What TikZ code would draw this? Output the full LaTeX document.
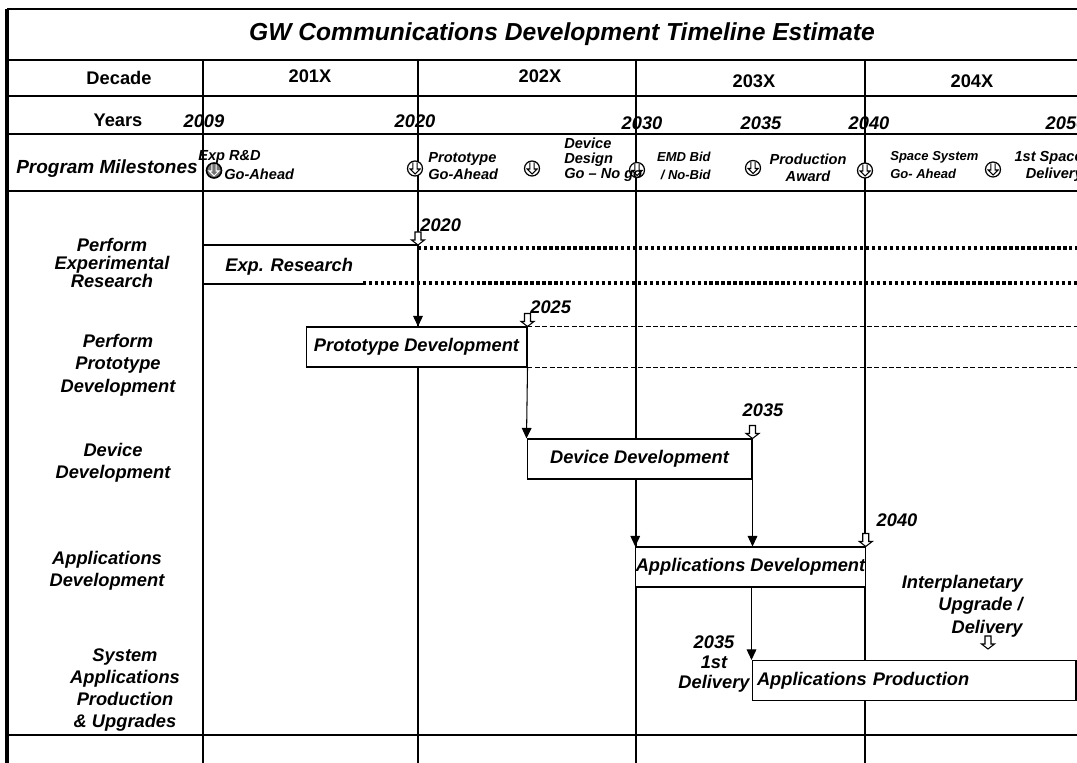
\documentclass[tikz,border=0pt]{standalone}
\usepackage{fontspec}
\setmainfont{Liberation Sans}
\usetikzlibrary{arrows.meta}

\begin{document}
\begin{tikzpicture}[x=0.02cm,y=-0.02cm,
    every node/.style={font=\bfseries\itshape\fontsize{10.4}{12.7}\selectfont, inner sep=0pt},
    grid/.style={line width=0.6pt},
    rule/.style={line width=1.3pt},
    bar/.style={draw, line width=0.6pt, fill=white, minimum height=0.8cm},
    flow/.style={line width=0.6pt, -{Triangle[width=5.5pt,length=6pt]}},
    dotline/.style={line width=2pt, dash pattern=on 1.9pt off 1.5pt},
    dashline/.style={line width=0.5pt, dash pattern=on 2.8pt off 1.4pt},
    head/.style={font=\bfseries\fontsize{10.4}{12}\selectfont},
    mtext/.style={font=\bfseries\itshape\fontsize{8.3}{9.6}\selectfont},
    msmall/.style={font=\bfseries\itshape\fontsize{7.4}{10.5}\selectfont},
    openarr/.pic={\draw[line width=0.6pt, fill=white] (0,0) -- (-6.5,-5) -- (-3,-5) -- (-3,-13) -- (3,-13) -- (3,-5) -- (6.5,-5) -- cycle;},
    mstone/.pic={\draw[line width=0.7pt, fill=white] (0,0) circle (7.5);
        \draw[line width=0.6pt] (-2.2,-6) -- (-2.2,0.5) -- (-5,0.5) -- (0,5.5) -- (5,0.5) -- (2.2,0.5) -- (2.2,-6);},
    mstonedark/.pic={\draw[line width=0.9pt, fill=black!55] (0,0) circle (7.5);
        \draw[line width=0.6pt, white] (-2.2,-6) -- (-2.2,0.5) -- (-5,0.5) -- (0,5.5) -- (5,0.5) -- (2.2,0.5) -- (2.2,-6);}
]
    \clip (0,0) rectangle (1077,763);
    \fill[white] (0,0) rectangle (1077,763);

    % Frame and rows
    \draw[rule] (7,9) -- (1077,9);
    \draw[rule] (7,60) -- (1077,60);
    \draw[line width=1pt] (7,96) -- (1077,96);
    \draw[line width=1.6pt] (7,134) -- (1077,134);
    \draw[rule] (7,191) -- (1077,191);
    \draw[line width=1pt] (7,735) -- (1077,735);
    \draw[line width=2pt] (7,9) -- (7,763);

    % Decade lines
    \draw[grid] (203,60) -- (203,763);
    \draw[grid] (418,60) -- (418,763);
    \draw[grid] (636,60) -- (636,763);
    \draw[grid] (865,60) -- (865,763);

    % Title
    \node (title) [font=\bfseries\itshape\fontsize{14}{16}\selectfont] at (562,34) {GW Communications Development Timeline Estimate};

    % Decades and years
    \node (decade) [head] at (119,78) {Decade};
    \node (d201) [head] at (310,76) {201X};
    \node (d202) [head] at (540,76) {202X};
    \node (d203) [head] at (754,81) {203X};
    \node (d204) [head] at (972,81) {204X};
    \node (years) [head] at (118,120) {Years};
    \node (y2009) at (204,121) {2009};
    \node (y2020) at (415,121) {2020};
    \node (y2030) at (642,123) {2030};
    \node (y2035) at (761,123) {2035};
    \node (y2040) at (869,123) {2040};
    \node (y2050) at (1066,123) {2050};

    % Milestones
    \node (prog) [font=\bfseries\itshape\fontsize{10.8}{12}\selectfont] at (107,169) {Program Milestones};
    \pic at (214,170.5) {mstonedark};
    \pic at (415,168.5) {mstone};
    \pic at (532,168.5) {mstone};
    \pic at (637,170) {mstone};
    \pic at (753,168) {mstone};
    \pic at (865,170.5) {mstone};
    \pic at (993,169.5) {mstone};
    \node (msExp) [mtext, anchor=west] at (198,157) {Exp R\&D};
    \node (msExpGo) [mtext, anchor=west] at (224,174) {Go-Ahead};
    \node (msProto) [mtext, align=left, anchor=west] at (428,166) {Prototype\\Go-Ahead};
    \node (msDevice) [mtext, font=\bfseries\itshape\fontsize{8.3}{8.6}\selectfont, align=left, anchor=west] at (564,160) {Device\\Design\\Go – No go};
    \node (msEmd) [msmall, align=right, anchor=east] at (711,166) {EMD Bid\\/ No-Bid};
    \node (msProd) [mtext, align=center] at (808,168) {Production\\Award};
    \node (msSpace) [msmall, align=left, anchor=west] at (890,165) {Space System\\Go- Ahead};
    \node (msFirst) [mtext, align=right, anchor=east] at (1083,166) {1st Space\\Delivery};

    % Row labels
    \node (rExp) [align=center, font=\bfseries\itshape\fontsize{10.4}{10.2}\selectfont] at (112,263) {Perform\\Experimental\\Research};
    \node (rProto) [align=center] at (118,365) {Perform\\Prototype\\Development};
    \node (rDev) [align=center] at (113,463) {Device\\Development};
    \node (rApp) [align=center] at (107,571) {Applications\\Development};
    \node (rSys) [align=center] at (125,690) {System\\Applications\\Production\\\& Upgrades};

    % Experimental research
    \node (exp) [anchor=west] at (225,267) {Exp. Research};
    \draw[grid] (203,245) -- (418,245);
    \draw[grid] (203,284) -- (363,284);
    \draw[dotline] (418,248) -- (1077,248);
    \draw[dotline] (363,283) -- (1077,283);

    % Bars
    \node (proto) [bar, minimum width=4.42cm] at (416.5,347) {Prototype Development};
    \node (dev) [bar, minimum width=4.5cm] at (639.5,459) {Device Development};
    \node (appdev) [bar, minimum width=4.58cm] at (750.5,567) {Applications Development};
    \node (appprod) [bar, text width=6.28cm, inner xsep=0.1cm, align=left] at (914,680.5) {Applications Production};
    \draw[dashline] (proto.north east) -- ++(560,0);
    \draw[dashline] (proto.south east) -- ++(560,0);

    % Flow
    \coordinate (c2020) at (418,248);
    \draw[flow] (c2020) -- (c2020 |- proto.north);
    \draw[flow] (proto.south east) -- (dev.north west);
    \draw[flow] (dev.south east) -- (dev.south east |- appdev.north);
    \draw[flow] (dev.south -| appdev.north west) -- (appdev.north west);
    \draw[flow] (appdev.south -| appprod.north west) -- (appprod.north west);

    % Dates
    \pic at (418,245) {openarr};
    \node (t2020) [anchor=west] at (420,225) {2020};
    \pic at (proto.north east) {openarr};
    \node (t2025) [anchor=west] at (530,307) {2025};
    \pic at (dev.north east) {openarr};
    \node (t2035) at (763,410) {2035};
    \pic at (appdev.north east) {openarr};
    \node (t2040) at (897,520) {2040};
    \pic at (988,649) {openarr};
    \node (interp) [align=right, anchor=east] at (1023,606) {Interplanetary\\Upgrade /\\Delivery};
    \node (first) [align=center, font=\bfseries\itshape\fontsize{10.4}{11.3}\selectfont] at (714,664) {2035\\1st\\Delivery};
\end{tikzpicture}
\end{document}
